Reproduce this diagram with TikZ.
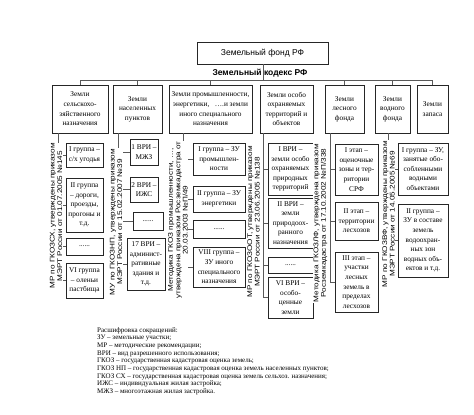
\documentclass[tikz,border=0pt]{standalone}
\usepackage{fontspec}
\setmainfont{Liberation Serif}
\newfontfamily\sansf{Liberation Sans}
\newfontfamily\rotsans[FakeStretch=1.2]{Liberation Sans}
\newcommand{\bxf}{\fontsize{7.3}{9.6}\selectfont}
\newcommand{\rtf}{\rotsans\fontsize{6.8}{7.4}\selectfont}
\newcommand{\lgf}{\fontsize{7.0}{7.7}\selectfont}
\begin{document}
\begin{tikzpicture}[x=1pt,y=-1pt,
  box/.style={draw=black!85, line width=0.9pt, align=center, inner sep=0pt, font=\bxf},
  conn/.style={draw=black!65, line width=0.6pt},
  rot/.style={rotate=90, fill=white, inner sep=0.5pt, align=center, font=\rtf}]
\useasboundingbox (0,0) rectangle (474,415);
% top
\node[box, minimum width=131pt, minimum height=22pt, font=\sansf\fontsize{8.5}{10}\selectfont] (top) at (262.5,53) {Земельный фонд РФ};
\node[font=\sansf\bfseries\fontsize{8.5}{10}\selectfont, inner sep=0pt] (code) at (260,73) {Земельный кодекс РФ};
% categories
\node[box, minimum width=56pt, minimum height=48pt] (c1) at (80,109) {Земли\\сельскохо-\\зяйственного\\назначения};
\node[box, minimum width=49pt, minimum height=48pt] (c2) at (137.5,109) {Земли\\населенных\\пунктов};
\node[box, minimum width=83pt, minimum height=48pt] (c3) at (210.5,109) {Земли промышленности,\\энергетики, \ \ ….и земли\\иного специального\\назначения};
\node[box, minimum width=53pt, minimum height=48pt] (c4) at (286.5,109) {Земли особо\\охраняемых\\территорий и\\объектов};
\node[box, minimum width=39pt, minimum height=48pt] (c5) at (344.5,109) {Земли\\лесного\\фонда};
\node[box, minimum width=35pt, minimum height=48pt] (c6) at (392.5,109) {Земли\\водного\\фонда};
\node[box, minimum width=31pt, minimum height=48pt] (c7) at (432.5,109) {Земли\\запаса};
% column 1
\node[box, minimum width=37pt, minimum height=24pt] (s11) at (84.5,155) {I группа –\\с/х угодья};
\node[box, minimum width=37pt, minimum height=54pt] (s12) at (84.5,205) {II группа\\– дороги,\\проезды,\\прогоны и\\т.д.};
\node[box, minimum width=37pt, minimum height=17pt] (s13) at (84.5,246.5) {......};
\node[box, minimum width=37pt, minimum height=35pt] (s14) at (84.5,280.5) {VI группа\\– оленьи\\пастбища};
% column 2
\node[box, minimum width=28pt, minimum height=26pt] (s21) at (144,152) {1 ВРИ –\\МЖЗ};
\node[box, minimum width=28pt, minimum height=25pt] (s22) at (144,189.5) {2 ВРИ –\\ИЖС};
\node[box, minimum width=30pt, minimum height=18pt] (s23) at (148,221) {......};
\node[box, minimum width=38pt, minimum height=52pt] (s24) at (146,264) {17 ВРИ –\\админист-\\ративные\\здания и\\т.д.};
% column 3
\node[box, minimum width=52pt, minimum height=32pt] (s31) at (219,159) {I группа – ЗУ\\промышлен-\\ности};
\node[box, minimum width=52pt, minimum height=26pt] (s32) at (219,199) {II группа – ЗУ\\энергетики};
\node[box, minimum width=52pt, minimum height=18pt] (s33) at (219,229) {......};
\node[box, minimum width=52pt, minimum height=40pt] (s34) at (219,267) {VIII группа –\\ЗУ иного\\специального\\назначения};
% column 4
\node[box, minimum width=45pt, minimum height=52pt] (s41) at (290.5,169) {I ВРИ –\\земли особо\\охраняемых\\природных\\территорий};
\node[box, minimum width=45pt, minimum height=50pt] (s42) at (290.5,223) {II ВРИ –\\земли\\природоох-\\ранного\\назначения};
\node[box, minimum width=45pt, minimum height=16pt] (s43) at (290.5,265) {......};
\node[box, minimum width=45pt, minimum height=41pt] (s44) at (290.5,297.5) {VI ВРИ –\\особо-\\ценные\\земли};
% column 5
\node[box, minimum width=43pt, minimum height=51pt] (s51) at (356.5,169.5) {I этап –\\оценочные\\зоны и тер-\\ритории\\СРФ};
\node[box, minimum width=43pt, minimum height=38pt] (s52) at (356.5,221) {II этап –\\территории\\лесхозов};
\node[box, minimum width=43pt, minimum height=60pt] (s53) at (356.5,282) {III этап –\\участки\\лесных\\земель в\\пределах\\лесхозов};
% column 6
\node[box, minimum width=50pt, minimum height=52pt] (s61) at (423,169) {I группа – ЗУ,\\занятые обо-\\собленными\\водными\\объектами};
\node[box, minimum width=50pt, minimum height=73pt] (s62) at (423,240.5) {II группа –\\ЗУ в составе\\земель\\водоохран-\\ных зон\\водных объ-\\ектов и т.д.};
% bus
\coordinate (bus) at (0,80);
\draw[conn] (top.south -| code) ++(3,0) coordinate (tv) -- (tv |- bus);
\draw[conn] (c1.north |- bus) -- (c7.north |- bus);
\foreach \c in {c1,c2,c3,c5,c6,c7} \draw[conn] (\c.north |- bus) -- (\c.north);
% trunks
\coordinate (t1) at (58,0); \coordinate (t2) at (118,0); \coordinate (t3) at (183,0);
\coordinate (t4) at (263,0); \coordinate (t5) at (330,0); \coordinate (t6) at (388,0);
\draw[conn] (t1 |- c1.south) -- (t1 |- s14.west) -- (s14.west);
\foreach \s in {s11,s12,s13} \draw[conn] (t1 |- \s.west) -- (\s.west);
\draw[conn] (t2 |- c2.south) -- (t2 |- s24.west) -- (s24.west);
\foreach \s in {s21,s22,s23} \draw[conn] (t2 |- \s.west) -- (\s.west);
\draw[conn] (t3 |- c3.south) -- (t3 |- s34.west) -- (s34.west);
\foreach \s in {s31,s32,s33} \draw[conn] (t3 |- \s.west) -- (\s.west);
\draw[conn] (t4 |- c4.south) -- (t4 |- s44.west) -- (s44.west);
\foreach \s in {s41,s42,s43} \draw[conn] (t4 |- \s.west) -- (\s.west);
\draw[conn] (t5 |- c5.south) -- (t5 |- s53.west) -- (s53.west);
\foreach \s in {s51,s52} \draw[conn] (t5 |- \s.west) -- (\s.west);
\draw[conn] (t6 |- c6.south) -- (t6 |- s62.west) -- (s62.west);
\draw[conn] (t6 |- s61.west) -- (s61.west);
% rotated texts
\node[rot] (r1) at (56,216) {МР по ГКОЗСХ, утверждены приказом\\МЭРТ России от 01.07.2005 №145};
\node[rot] (r2) at (116,222) {МУ по ГКОЗНП, утверждены приказом\\МЭРТ России от 15.02.2007 №39};
\node[rot] (r3) at (178,220) {Методика ГКОЗ промышленности, …,\\утверждена приказом Росземкадастра от\\20.03.2003 №П/49};
\node[rot] (r4) at (253.5,222) {МР по ГКОЗООТ, утверждены приказом\\МЭРТ России от 23.06.2005 №138};
\node[rot] (r5) at (320.5,223) {Методика ГКОЗЛФ, утверждена приказом\\Росземкадастра от 17.10.2002 №П/338};
\node[rot] (r6) at (388.5,214) {МР по ГКОЗВФ, утверждены приказом\\МЭРТ России от 14.05.2005 №69};
% legend
\node[anchor=north west, align=left, inner sep=0pt, font=\lgf] (leg) at (97,327) {Расшифровка сокращений:\\
ЗУ – земельные участки;\\
МР – методические рекомендации;\\
ВРИ – вид разрешенного использования;\\
ГКОЗ – государственная кадастровая оценка земель;\\
ГКОЗ НП – государственная кадастровая оценка земель населенных пунктов;\\
ГКОЗ СХ – государственная кадастровая оценка земель сельхоз. назначения;\\
ИЖС – индивидуальная жилая застройка;\\
МЖЗ – многоэтажная жилая застройка.};
\end{tikzpicture}
\end{document}
